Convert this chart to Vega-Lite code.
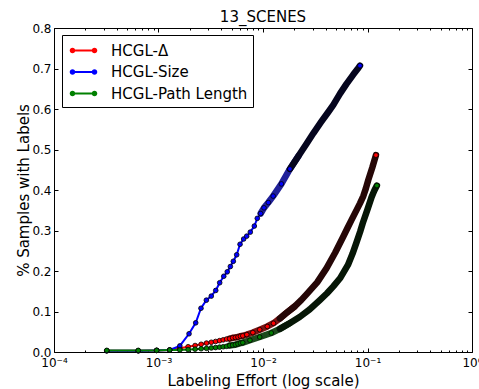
{
  "$schema": "https://vega.github.io/schema/vega-lite/v6.json",
  "autosize": {"type": "none"},
  "padding": {"left": 54, "top": 28, "right": 7, "bottom": 37},
  "width": 418,
  "height": 324,
  "title": {"text": "13_SCENES", "font": "DejaVu Sans", "fontSize": 15, "fontWeight": "normal", "color": "black", "anchor": "middle", "offset": -3},
  "config": {
    "view": {"stroke": "black", "strokeWidth": 1},
    "axis": {"domain": false, "grid": false, "tickColor": "black", "tickWidth": 1, "labelColor": "black", "titleColor": "black", "labelFont": "DejaVu Sans", "titleFont": "DejaVu Sans", "labelFontSize": 12, "titleFontSize": 15, "titleFontWeight": "normal", "labelFlush": false, "labelOverlap": false}
  },
  "data": {"values": [
    {"s": "HCGL-Δ", "x": 0.00032, "y": 0.003},
    {"s": "HCGL-Δ", "x": 0.00064, "y": 0.003},
    {"s": "HCGL-Δ", "x": 0.00096, "y": 0.004},
    {"s": "HCGL-Δ", "x": 0.00128, "y": 0.005},
    {"s": "HCGL-Δ", "x": 0.0016, "y": 0.009},
    {"s": "HCGL-Δ", "x": 0.00192, "y": 0.013},
    {"s": "HCGL-Δ", "x": 0.00224, "y": 0.016},
    {"s": "HCGL-Δ", "x": 0.00256, "y": 0.019},
    {"s": "HCGL-Δ", "x": 0.00288, "y": 0.022},
    {"s": "HCGL-Δ", "x": 0.0032, "y": 0.024},
    {"s": "HCGL-Δ", "x": 0.00352, "y": 0.026},
    {"s": "HCGL-Δ", "x": 0.00384, "y": 0.028},
    {"s": "HCGL-Δ", "x": 0.00416, "y": 0.030},
    {"s": "HCGL-Δ", "x": 0.00448, "y": 0.032},
    {"s": "HCGL-Δ", "x": 0.0048, "y": 0.033},
    {"s": "HCGL-Δ", "x": 0.00512, "y": 0.035},
    {"s": "HCGL-Δ", "x": 0.00544, "y": 0.036},
    {"s": "HCGL-Δ", "x": 0.00576, "y": 0.037},
    {"s": "HCGL-Δ", "x": 0.00608, "y": 0.039},
    {"s": "HCGL-Δ", "x": 0.0064, "y": 0.040},
    {"s": "HCGL-Δ", "x": 0.007, "y": 0.043},
    {"s": "HCGL-Δ", "x": 0.008, "y": 0.048},
    {"s": "HCGL-Δ", "x": 0.0093, "y": 0.055},
    {"s": "HCGL-Δ", "x": 0.011, "y": 0.063},
    {"s": "HCGL-Δ", "x": 0.0126, "y": 0.071},
    {"s": "HCGL-Δ", "x": 0.0145, "y": 0.083},
    {"s": "HCGL-Δ", "x": 0.0165, "y": 0.095},
    {"s": "HCGL-Δ", "x": 0.020, "y": 0.112},
    {"s": "HCGL-Δ", "x": 0.0232, "y": 0.128},
    {"s": "HCGL-Δ", "x": 0.0262, "y": 0.143},
    {"s": "HCGL-Δ", "x": 0.033, "y": 0.172},
    {"s": "HCGL-Δ", "x": 0.0406, "y": 0.207},
    {"s": "HCGL-Δ", "x": 0.049, "y": 0.245},
    {"s": "HCGL-Δ", "x": 0.0587, "y": 0.285},
    {"s": "HCGL-Δ", "x": 0.064, "y": 0.305},
    {"s": "HCGL-Δ", "x": 0.070, "y": 0.325},
    {"s": "HCGL-Δ", "x": 0.077, "y": 0.346},
    {"s": "HCGL-Δ", "x": 0.0847, "y": 0.367},
    {"s": "HCGL-Δ", "x": 0.0912, "y": 0.385},
    {"s": "HCGL-Δ", "x": 0.0965, "y": 0.404},
    {"s": "HCGL-Δ", "x": 0.1018, "y": 0.425},
    {"s": "HCGL-Δ", "x": 0.111, "y": 0.455},
    {"s": "HCGL-Δ", "x": 0.1205, "y": 0.486},
    {"s": "HCGL-Size", "x": 0.00032, "y": 0.003},
    {"s": "HCGL-Size", "x": 0.00064, "y": 0.003},
    {"s": "HCGL-Size", "x": 0.00096, "y": 0.004},
    {"s": "HCGL-Size", "x": 0.00128, "y": 0.005},
    {"s": "HCGL-Size", "x": 0.0016, "y": 0.015},
    {"s": "HCGL-Size", "x": 0.00196, "y": 0.045},
    {"s": "HCGL-Size", "x": 0.00227, "y": 0.072},
    {"s": "HCGL-Size", "x": 0.00255, "y": 0.108},
    {"s": "HCGL-Size", "x": 0.00287, "y": 0.128},
    {"s": "HCGL-Size", "x": 0.0032, "y": 0.138},
    {"s": "HCGL-Size", "x": 0.00353, "y": 0.152},
    {"s": "HCGL-Size", "x": 0.00385, "y": 0.171},
    {"s": "HCGL-Size", "x": 0.00421, "y": 0.187},
    {"s": "HCGL-Size", "x": 0.00455, "y": 0.198},
    {"s": "HCGL-Size", "x": 0.00487, "y": 0.211},
    {"s": "HCGL-Size", "x": 0.0052, "y": 0.224},
    {"s": "HCGL-Size", "x": 0.0056, "y": 0.240},
    {"s": "HCGL-Size", "x": 0.00603, "y": 0.266},
    {"s": "HCGL-Size", "x": 0.00653, "y": 0.279},
    {"s": "HCGL-Size", "x": 0.00698, "y": 0.286},
    {"s": "HCGL-Size", "x": 0.00756, "y": 0.296},
    {"s": "HCGL-Size", "x": 0.00826, "y": 0.311},
    {"s": "HCGL-Size", "x": 0.00882, "y": 0.330},
    {"s": "HCGL-Size", "x": 0.0095, "y": 0.342},
    {"s": "HCGL-Size", "x": 0.01022, "y": 0.356},
    {"s": "HCGL-Size", "x": 0.01124, "y": 0.369},
    {"s": "HCGL-Size", "x": 0.0125, "y": 0.385},
    {"s": "HCGL-Size", "x": 0.015, "y": 0.415},
    {"s": "HCGL-Size", "x": 0.0181, "y": 0.452},
    {"s": "HCGL-Size", "x": 0.022, "y": 0.485},
    {"s": "HCGL-Size", "x": 0.0262, "y": 0.515},
    {"s": "HCGL-Size", "x": 0.0303, "y": 0.540},
    {"s": "HCGL-Size", "x": 0.036, "y": 0.568},
    {"s": "HCGL-Size", "x": 0.042, "y": 0.592},
    {"s": "HCGL-Size", "x": 0.0471, "y": 0.610},
    {"s": "HCGL-Size", "x": 0.0546, "y": 0.638},
    {"s": "HCGL-Size", "x": 0.063, "y": 0.662},
    {"s": "HCGL-Size", "x": 0.0731, "y": 0.685},
    {"s": "HCGL-Size", "x": 0.080, "y": 0.698},
    {"s": "HCGL-Size", "x": 0.0847, "y": 0.707},
    {"s": "HCGL-Path Length", "x": 0.00032, "y": 0.004},
    {"s": "HCGL-Path Length", "x": 0.00064, "y": 0.004},
    {"s": "HCGL-Path Length", "x": 0.00096, "y": 0.004},
    {"s": "HCGL-Path Length", "x": 0.00128, "y": 0.005},
    {"s": "HCGL-Path Length", "x": 0.0016, "y": 0.005},
    {"s": "HCGL-Path Length", "x": 0.00192, "y": 0.006},
    {"s": "HCGL-Path Length", "x": 0.00224, "y": 0.007},
    {"s": "HCGL-Path Length", "x": 0.00256, "y": 0.008},
    {"s": "HCGL-Path Length", "x": 0.00288, "y": 0.009},
    {"s": "HCGL-Path Length", "x": 0.0032, "y": 0.010},
    {"s": "HCGL-Path Length", "x": 0.00352, "y": 0.011},
    {"s": "HCGL-Path Length", "x": 0.00384, "y": 0.012},
    {"s": "HCGL-Path Length", "x": 0.00416, "y": 0.013},
    {"s": "HCGL-Path Length", "x": 0.00448, "y": 0.014},
    {"s": "HCGL-Path Length", "x": 0.0048, "y": 0.016},
    {"s": "HCGL-Path Length", "x": 0.00512, "y": 0.017},
    {"s": "HCGL-Path Length", "x": 0.00544, "y": 0.018},
    {"s": "HCGL-Path Length", "x": 0.00576, "y": 0.020},
    {"s": "HCGL-Path Length", "x": 0.00608, "y": 0.022},
    {"s": "HCGL-Path Length", "x": 0.0064, "y": 0.023},
    {"s": "HCGL-Path Length", "x": 0.0075, "y": 0.029},
    {"s": "HCGL-Path Length", "x": 0.0093, "y": 0.037},
    {"s": "HCGL-Path Length", "x": 0.012, "y": 0.047},
    {"s": "HCGL-Path Length", "x": 0.0145, "y": 0.057},
    {"s": "HCGL-Path Length", "x": 0.018, "y": 0.071},
    {"s": "HCGL-Path Length", "x": 0.0226, "y": 0.087},
    {"s": "HCGL-Path Length", "x": 0.028, "y": 0.105},
    {"s": "HCGL-Path Length", "x": 0.035, "y": 0.128},
    {"s": "HCGL-Path Length", "x": 0.041, "y": 0.145},
    {"s": "HCGL-Path Length", "x": 0.0471, "y": 0.162},
    {"s": "HCGL-Path Length", "x": 0.0546, "y": 0.182},
    {"s": "HCGL-Path Length", "x": 0.065, "y": 0.215},
    {"s": "HCGL-Path Length", "x": 0.072, "y": 0.243},
    {"s": "HCGL-Path Length", "x": 0.0788, "y": 0.272},
    {"s": "HCGL-Path Length", "x": 0.085, "y": 0.297},
    {"s": "HCGL-Path Length", "x": 0.09, "y": 0.318},
    {"s": "HCGL-Path Length", "x": 0.1, "y": 0.352},
    {"s": "HCGL-Path Length", "x": 0.1096, "y": 0.383},
    {"s": "HCGL-Path Length", "x": 0.116, "y": 0.398},
    {"s": "HCGL-Path Length", "x": 0.123, "y": 0.411}
  ]},
  "layer": [
    {
      "mark": {"type": "line", "strokeWidth": 2},
      "encoding": {
        "x": {"field": "x", "type": "quantitative", "scale": {"type": "log", "domain": [0.0001, 1], "nice": false},
          "axis": {"orient": "bottom", "values": [0.0001, 0.001, 0.01, 0.1, 1], "labelExpr": "datum.value < 0.0005 ? '10⁻⁴' : datum.value < 0.005 ? '10⁻³' : datum.value < 0.05 ? '10⁻²' : datum.value < 0.5 ? '10⁻¹' : '10⁰'", "tickSize": -4, "labelPadding": 9, "title": "Labeling Effort (log scale)", "titlePadding": 5}},
        "y": {"field": "y", "type": "quantitative", "scale": {"domain": [0, 0.8], "nice": false},
          "axis": {"orient": "left", "values": [0, 0.1, 0.2, 0.3, 0.4, 0.5, 0.6, 0.7, 0.8], "format": ".1f", "tickSize": -4, "labelPadding": 7, "title": "% Samples with Labels", "titlePadding": 0}},
        "detail": {"field": "s"},
        "color": {"condition": [{"test": "datum.s === 'HCGL-Size'", "value": "#0000ff"}, {"test": "datum.s === 'HCGL-Path Length'", "value": "#008000"}], "value": "#ff0000"}
      }
    },
    {
      "transform": [{"filter": "datum.s === 'HCGL-Size' ? (datum.x >= 0.0095 && datum.x <= 0.022) : (datum.x >= 0.0045 && datum.x <= 0.022)"}],
      "mark": {"type": "line", "strokeWidth": 6.5, "strokeCap": "round", "strokeJoin": "round"},
      "encoding": {
        "x": {"field": "x", "type": "quantitative", "axis": {"orient": "top", "values": [0.0001, 0.001, 0.01, 0.1, 1], "labels": false, "tickSize": -4, "title": null}},
        "y": {"field": "y", "type": "quantitative", "axis": {"orient": "right", "values": [0, 0.1, 0.2, 0.3, 0.4, 0.5, 0.6, 0.7, 0.8], "labels": false, "tickSize": -4, "title": null}},
        "detail": {"field": "s"},
        "color": {"condition": [{"test": "datum.s === 'HCGL-Size'", "value": "#20209a"}, {"test": "datum.s === 'HCGL-Path Length'", "value": "#1d4a1d"}], "value": "#7a1515"}
      }
    },
    {
      "transform": [{"filter": "datum.x >= (datum.s === 'HCGL-Size' ? 0.0181 : 0.0145)"}],
      "mark": {"type": "line", "strokeWidth": 6.5, "strokeCap": "round", "strokeJoin": "round"},
      "encoding": {
        "x": {"field": "x", "type": "quantitative", "axis": {"orient": "top", "values": [0.0002, 0.0003, 0.0004, 0.0005, 0.0006, 0.0007, 0.0008, 0.0009, 0.002, 0.003, 0.004, 0.005, 0.006, 0.007, 0.008, 0.009, 0.02, 0.03, 0.04, 0.05, 0.06, 0.07, 0.08, 0.09, 0.2, 0.3, 0.4, 0.5, 0.6, 0.7, 0.8, 0.9], "labels": false, "tickSize": -2, "title": null}},
        "y": {"field": "y", "type": "quantitative", "axis": null},
        "detail": {"field": "s"},
        "color": {"condition": [{"test": "datum.s === 'HCGL-Size'", "value": "#05051e"}, {"test": "datum.s === 'HCGL-Path Length'", "value": "#061606"}], "value": "#250606"}
      }
    },
    {
      "transform": [
        {"joinaggregate": [{"op": "max", "field": "x", "as": "maxx"}], "groupby": ["s"]},
        {"filter": "datum.x == datum.maxx || datum.x <= (datum.s === 'HCGL-Size' ? 0.0181 : 0.0126)"}
      ],
      "mark": {"type": "point", "filled": true, "size": 22, "stroke": "black", "strokeWidth": 0.8, "opacity": 1},
      "encoding": {
        "x": {"field": "x", "type": "quantitative", "axis": {"orient": "bottom", "values": [0.0002, 0.0003, 0.0004, 0.0005, 0.0006, 0.0007, 0.0008, 0.0009, 0.002, 0.003, 0.004, 0.005, 0.006, 0.007, 0.008, 0.009, 0.02, 0.03, 0.04, 0.05, 0.06, 0.07, 0.08, 0.09, 0.2, 0.3, 0.4, 0.5, 0.6, 0.7, 0.8, 0.9], "labels": false, "tickSize": -2, "title": null}},
        "y": {"field": "y", "type": "quantitative", "axis": null},
        "color": {"field": "s", "type": "nominal", "scale": {"domain": ["HCGL-Δ", "HCGL-Size", "HCGL-Path Length"], "range": ["#ff0000", "#0000ff", "#008000"]},
          "legend": {"title": null, "orient": "none", "legendX": 8, "legendY": 7, "padding": 5.5, "strokeColor": "black", "fillColor": "white", "cornerRadius": 0, "symbolType": "M-0.82,0A0.28,0.28,0,1,1,-1.38,0A0.28,0.28,0,1,1,-0.82,0Z M1.38,0A0.28,0.28,0,1,1,0.82,0A0.28,0.28,0,1,1,1.38,0Z M-1.1,-0.1L1.1,-0.1L1.1,0.1L-1.1,0.1Z", "symbolSize": 400, "symbolStrokeWidth": 0, "symbolOffset": 6, "labelOffset": 17.5, "labelFont": "DejaVu Sans", "labelFontSize": 15, "labelColor": "black", "labelLimit": 300, "rowPadding": 3.5}}
      }
    }
  ],
  "resolve": {"axis": {"x": "independent", "y": "independent"}}
}
